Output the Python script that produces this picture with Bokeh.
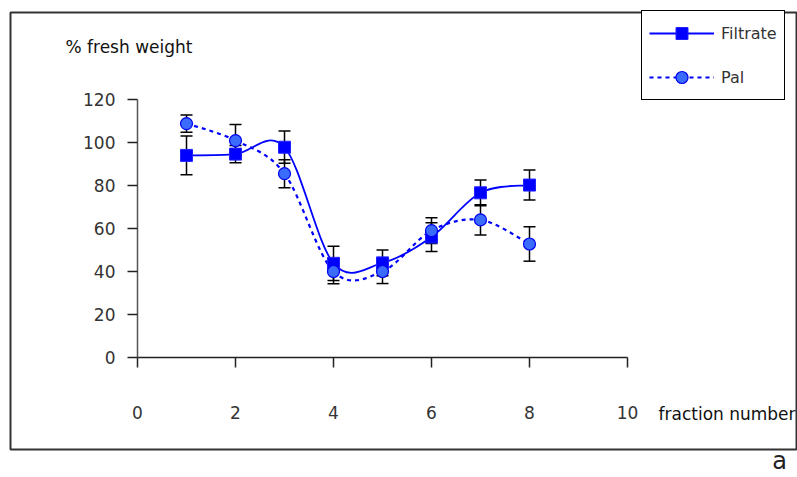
from bokeh.plotting import figure
from bokeh.models import (Range1d, ColumnDataSource, Whisker, TeeHead, Legend, LegendItem,
                          Label, BoxAnnotation, FixedTicker)
from bokeh.embed import file_html
from bokeh.resources import INLINE

# ---- data ----
fraction = [1, 2, 3, 4, 5, 6, 7, 8]
filtrate = [94.0, 94.6, 97.8, 43.8, 44.0, 56.0, 76.6, 80.2]
filtrate_err = [9.0, 4.0, 7.5, 8.0, 6.0, 6.7, 6.0, 7.0]
pal = [108.8, 100.9, 85.5, 40.0, 40.0, 59.0, 64.0, 52.8]
pal_err = [4.0, 7.5, 6.5, 5.7, 5.6, 6.0, 7.0, 8.0]
x_ticks = [0, 2, 4, 6, 8, 10]
y_ticks = [0, 20, 40, 60, 80, 100, 120]

FONT = "DejaVu Sans"
W, H = 797, 477
# where the data box (0..10 x 0..120) sits on the canvas, in px
PL, PT, PR, PB = 137, 99, 627, 357
X0, X1, Y0, Y1 = 0, 10, 0, 120
sx = (PR - PL) / (X1 - X0)
sy = (PB - PT) / (Y1 - Y0)


def px_to_data(px, py):
    """canvas pixel -> data coordinates (for text / box placement)"""
    return X0 + (px - PL) / sx, Y0 + (PB - py) / sy


xr = Range1d(*[px_to_data(0, 0)[0], px_to_data(W, 0)[0]])
yr = Range1d(*[px_to_data(0, H)[1], px_to_data(0, 0)[1]])


def smooth(xs, ys):
    """Catmull-Rom -> cubic bezier control points (spreadsheet-style smoothed line)"""
    n = len(xs)
    P = list(zip(xs, ys))
    out = dict(x0=[], y0=[], x1=[], y1=[], cx0=[], cy0=[], cx1=[], cy1=[])
    for i in range(n - 1):
        pm = P[i - 1] if i > 0 else P[i]
        p0 = P[i]
        p1 = P[i + 1]
        p2 = P[i + 2] if i + 2 < n else P[i + 1]
        out["x0"].append(p0[0]); out["y0"].append(p0[1])
        out["x1"].append(p1[0]); out["y1"].append(p1[1])
        out["cx0"].append(p0[0] + (p1[0] - pm[0]) / 6)
        out["cy0"].append(p0[1] + (p1[1] - pm[1]) / 6)
        out["cx1"].append(p1[0] - (p2[0] - p0[0]) / 6)
        out["cy1"].append(p1[1] - (p2[1] - p0[1]) / 6)
    return out


p = figure(width=W, height=H, output_backend="svg", toolbar_location=None,
           x_range=xr, y_range=yr, title=None, min_border=0)
p.outline_line_color = None
p.xgrid.visible = False
p.ygrid.visible = False
p.background_fill_color = "white"
p.border_fill_color = "white"

for ax in (p.xaxis[0], p.yaxis[0]):
    ax.major_label_text_font = FONT
    ax.major_label_text_font_size = "17px"
    ax.major_label_text_color = "#333333"
    ax.major_label_text_font_style = "normal"
    ax.axis_line_color = "#222222"
    ax.axis_line_width = 1.5
    ax.major_tick_line_color = "#222222"
    ax.major_tick_line_width = 1.5
    ax.major_tick_out = 10
    ax.major_tick_in = 0
    ax.minor_tick_line_color = None
p.xaxis.ticker = FixedTicker(ticks=x_ticks)
p.yaxis.ticker = FixedTicker(ticks=y_ticks)
p.xaxis.bounds = (X0, X1)
p.yaxis.bounds = (Y0, Y1)
p.xaxis.fixed_location = Y0
p.yaxis.fixed_location = X0
p.xaxis.major_label_standoff = 38
p.yaxis.major_label_standoff = 12
p.yaxis.axis_line_color = "#555555"

# error bars
src_f = ColumnDataSource(dict(x=fraction, y=filtrate,
                              lo=[v - e for v, e in zip(filtrate, filtrate_err)],
                              hi=[v + e for v, e in zip(filtrate, filtrate_err)]))
src_p = ColumnDataSource(dict(x=fraction, y=pal,
                              lo=[v - e for v, e in zip(pal, pal_err)],
                              hi=[v + e for v, e in zip(pal, pal_err)]))
for s in (src_f, src_p):
    wk = Whisker(source=s, base="x", upper="hi", lower="lo", line_color="black", line_width=1.5,
                 upper_head=TeeHead(size=12, line_color="black", line_width=1.5),
                 lower_head=TeeHead(size=12, line_color="black", line_width=1.5))
    p.add_layout(wk)

# smoothed lines
p.bezier(source=ColumnDataSource(smooth(fraction, pal)), x0="x0", y0="y0", x1="x1", y1="y1",
         cx0="cx0", cy0="cy0", cx1="cx1", cy1="cy1", line_color="#0000FF", line_width=2.2,
         line_dash="4 4")
p.bezier(source=ColumnDataSource(smooth(fraction, filtrate)), x0="x0", y0="y0", x1="x1", y1="y1",
         cx0="cx0", cy0="cy0", cx1="cx1", cy1="cy1", line_color="#0000FF", line_width=1.8)

sq = p.scatter("x", "y", source=src_f, marker="square", size=12, fill_color="#0000FF",
               line_color="#2222FF", line_width=1)
ci = p.scatter("x", "y", source=src_p, marker="circle", size=12, fill_color="#3A6BFA",
               line_color="#0000EE", line_width=1.2)

# legend proxies (one NaN point so nothing is drawn in the plot area)
nan = float("nan")
lf = p.line([nan], [nan], line_color="#0000FF", line_width=1.8)
lp = p.line([nan], [nan], line_color="#0000FF", line_width=2.2, line_dash="4 4")
legend = Legend(items=[LegendItem(label="Filtrate", renderers=[lf, sq]),
                       LegendItem(label="Pal", renderers=[lp, ci])],
                location=(641, H - 100), glyph_width=65, glyph_height=30, label_height=30,
                spacing=14, padding=7, margin=0, label_standoff=7,
                label_text_font=FONT, label_text_font_size="16px", label_text_color="#333333",
                border_line_color="black", border_line_width=1.5, border_line_alpha=1,
                background_fill_color="white", background_fill_alpha=1)
p.add_layout(legend)

# texts
tx, ty = px_to_data(65, 46)
p.add_layout(Label(x=tx, y=ty, text="% fresh weight", text_font=FONT, text_font_size="17px",
                   text_color="#111111", text_baseline="middle", text_align="left"))
tx, ty = px_to_data(658, 413)
p.add_layout(Label(x=tx, y=ty, text="fraction number", text_font=FONT, text_font_size="17px",
                   text_color="#111111", text_baseline="middle", text_align="left"))
tx, ty = px_to_data(779, 460)
p.add_layout(Label(x=tx, y=ty, text="a", text_font=FONT, text_font_size="24px",
                   text_color="#222222", text_baseline="middle", text_align="center"))

# outer border box
bl, bt = px_to_data(10, 12)
br, bb = px_to_data(796, 449)
p.add_layout(BoxAnnotation(left=bl, right=br, top=bt, bottom=bb, fill_alpha=0,
                           line_color="#333333", line_width=2, line_alpha=1))

open("out.html", "w").write(file_html(p, INLINE))
